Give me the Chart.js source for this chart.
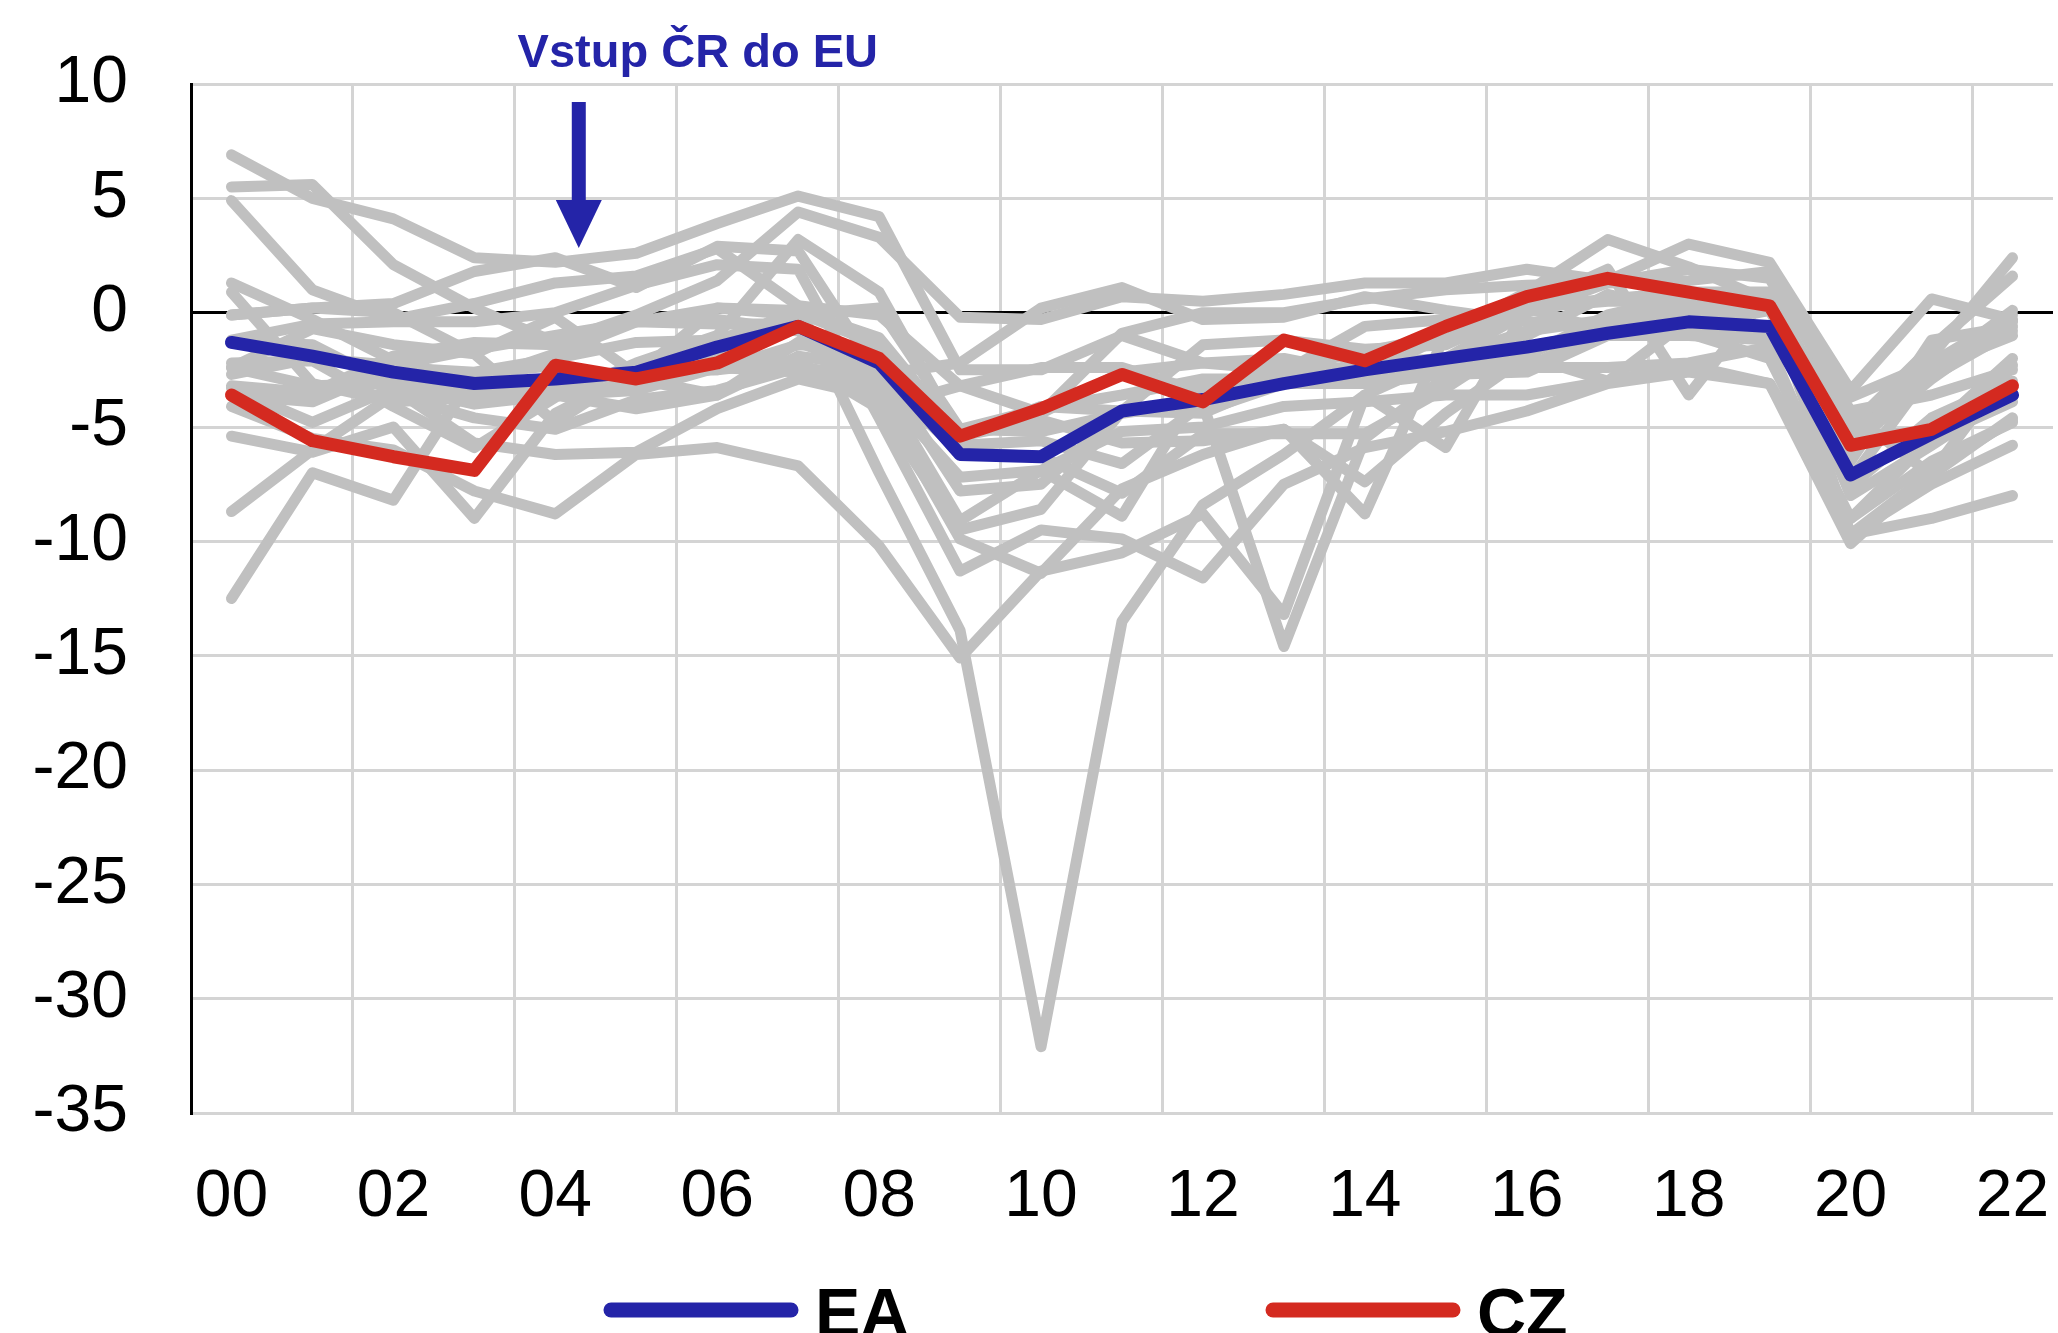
<!DOCTYPE html>
<html lang="cs">
<head>
    <meta charset="UTF-8">
    <title>Saldo veřejných rozpočtů</title>
    <script src="https://cdn.jsdelivr.net/npm/chart.js@4"></script>
    <style>
        html, body {
            margin: 0;
            padding: 0;
            background: #fff;
        }

        #wrap {
            position: relative;
            width: 2058px;
            height: 1333px;
        }
    </style>
</head>
<body>
    <div id="wrap"><canvas id="balanceChart"></canvas></div>

    <script>
        // years 2000 - 2022, only every second one gets a label
        const years = ['00', '01', '02', '03', '04', '05', '06', '07', '08', '09', '10', '11',
                       '12', '13', '14', '15', '16', '17', '18', '19', '20', '21', '22'];

        const ea = [-1.3, -1.9, -2.6, -3.1, -2.9, -2.6, -1.5, -0.6, -2.2, -6.2, -6.3, -4.3,
                    -3.8, -3.1, -2.5, -2.0, -1.5, -0.9, -0.4, -0.6, -7.1, -5.3, -3.6];
        const cz = [-3.6, -5.6, -6.3, -6.9, -2.3, -2.9, -2.2, -0.6, -2.0, -5.4, -4.2, -2.7,
                    -3.9, -1.2, -2.1, -0.6, 0.7, 1.5, 0.9, 0.3, -5.8, -5.1, -3.2];

        // euro area member states (grey lines)
        const be = [-0.1, 0.2, 0.0, -1.8, -0.2, -2.7, 0.2, 0.1, -1.1, -5.4, -4.1, -4.3,
                    -4.3, -3.1, -3.1, -2.4, -2.4, -0.7, -0.9, -2.0, -9.0, -5.5, -3.9];
        const de = [0.9, -3.1, -3.9, -3.7, -3.3, -3.3, -1.7, 0.3, -0.1, -3.2, -4.4, -0.9,
                    0.0, 0.0, 0.6, 1.0, 1.2, 1.3, 1.9, 1.5, -4.3, -3.6, -2.5];
        const ee = [-0.1, 0.2, 0.4, 1.8, 2.4, 1.1, 2.9, 2.7, -2.7, -2.2, 0.2, 1.1,
                    -0.3, -0.2, 0.7, 0.1, -0.4, -0.5, -0.6, 0.1, -5.5, -2.4, -1.0];
        const ie = [4.9, 1.0, -0.3, 0.4, 1.3, 1.6, 2.8, 0.3, -7.0, -13.9, -32.1, -13.5,
                    -8.4, -6.2, -3.6, -2.0, -0.8, -0.3, 0.1, 0.5, -5.0, -1.5, 1.6];
        const el = [-4.1, -5.5, -6.0, -7.8, -8.8, -6.2, -5.9, -6.7, -10.2, -15.1, -11.3, -10.5,
                    -8.8, -13.2, -3.6, -5.9, 0.2, 0.6, 0.9, 0.9, -9.7, -7.0, -2.3];
        const es = [-1.2, -0.5, -0.4, -0.4, 0.0, 1.2, 2.1, 1.9, -4.6, -11.3, -9.5, -9.9,
                    -11.6, -7.5, -5.9, -5.2, -4.3, -3.1, -2.6, -3.1, -10.1, -6.9, -4.7];
        const fr = [-1.3, -1.4, -3.2, -4.0, -3.6, -3.4, -2.4, -2.6, -3.3, -7.2, -6.9, -5.2,
                    -5.0, -4.1, -3.9, -3.6, -3.6, -3.0, -2.3, -3.1, -9.0, -6.5, -4.8];
        const hr = [-8.7, -6.0, -3.6, -4.6, -5.1, -3.8, -3.4, -2.4, -2.8, -6.1, -6.3, -7.9,
                    -5.3, -5.3, -5.3, -3.3, -1.0, 0.8, 0.0, 0.2, -7.3, -2.5, 0.1];
        const it = [-2.4, -3.2, -3.1, -3.4, -3.6, -4.2, -3.6, -1.3, -2.6, -5.1, -4.2, -3.6,
                    -2.9, -2.9, -3.0, -2.6, -2.4, -2.4, -2.2, -1.5, -9.7, -9.0, -8.0];
        const cy = [-2.2, -2.1, -4.1, -5.9, -3.7, -2.2, -1.0, 3.2, 0.9, -5.4, -4.7, -5.7,
                    -5.6, -5.1, -8.8, -0.9, 0.3, 1.9, -3.6, 0.9, -5.8, -1.9, 2.4];
        const lv = [-2.7, -2.0, -2.3, -1.6, -1.0, -0.4, -0.5, -0.5, -4.2, -9.5, -8.6, -4.3,
                    -1.4, -1.2, -1.6, -1.4, 0.2, -0.8, -0.8, -0.6, -4.4, -7.1, -4.6];
        const lt = [-3.2, -3.5, -1.9, -1.3, -1.4, -0.3, -0.3, -0.8, -3.1, -9.1, -6.9, -8.9,
                    -3.1, -2.6, -0.6, -0.3, 0.2, 0.5, 0.5, 0.5, -6.5, -1.2, -0.6];
        const lu = [5.5, 5.6, 2.1, 0.2, -1.3, -0.1, 1.4, 4.4, 3.3, -0.2, -0.3, 0.7,
                    0.5, 0.8, 1.3, 1.3, 1.9, 1.4, 3.0, 2.2, -3.4, 0.6, -0.3];
        const mt = [-5.4, -6.1, -5.0, -9.0, -4.4, -2.6, -2.5, -2.1, -4.2, -3.2, -2.4, -2.4,
                    -3.5, -2.4, -1.7, -1.0, 0.9, 3.2, 2.0, 0.5, -9.7, -7.5, -5.8];
        const nl = [1.3, -0.3, -2.1, -3.0, -1.8, -0.4, 0.2, -0.1, 0.2, -5.1, -5.2, -4.4,
                    -3.9, -2.9, -2.2, -2.0, 0.0, 1.3, 1.4, 1.8, -3.7, -2.2, -0.1];
        const at = [-2.4, -0.7, -1.4, -1.8, -4.8, -2.5, -2.5, -1.4, -1.5, -5.3, -4.4, -2.6,
                    -2.2, -2.0, -2.7, -1.0, -1.5, -0.8, 0.2, 0.6, -8.0, -5.8, -3.5];
        const pt = [-3.3, -4.8, -3.3, -5.7, -6.2, -6.1, -4.2, -2.9, -3.7, -9.9, -11.4, -7.7,
                    -6.2, -5.1, -7.4, -4.4, -1.9, -3.0, -0.3, 0.1, -5.8, -2.9, -0.4];
        const si = [-3.6, -3.9, -2.4, -2.6, -2.0, -1.3, -1.2, 0.0, -1.4, -5.8, -5.6, -6.6,
                    -4.0, -14.6, -5.5, -2.8, -1.9, -0.1, 0.7, 0.6, -7.6, -4.6, -3.0];
        const sk = [-12.5, -7.0, -8.2, -2.7, -2.3, -2.9, -3.6, -1.9, -2.4, -7.8, -7.5, -4.3,
                    -4.4, -2.9, -3.1, -2.7, -2.6, -1.0, -1.0, -1.2, -5.4, -5.2, -2.0];
        const fi = [6.9, 5.0, 4.1, 2.4, 2.2, 2.6, 3.9, 5.1, 4.2, -2.5, -2.5, -1.0,
                    -2.2, -2.5, -3.0, -2.4, -1.7, -0.7, -0.9, -0.9, -5.6, -2.8, -0.8];

        const memberStates = [be, de, ee, ie, el, es, fr, hr, it, cy, lv, lt, lu, mt, nl, at, pt, si, sk, fi];

        const yTicks = [10, 5, 0, -5, -10, -15, -20, -25, -30, -35];

        const blue = '#2424a8';
        const red = '#d42a20';
        const grey = '#c0c0c0';
        const gridGrey = '#d4d4d4';
        const fontFamily = '"Liberation Sans", Arial, sans-serif';

        const datasets = memberStates.map(values => ({
            label: '',
            data: values,
            borderColor: grey,
            borderWidth: 11,
            order: 3
        }));
        datasets.push({ label: 'EA', data: ea, borderColor: blue, backgroundColor: blue, borderWidth: 13, order: 2, inKey: true });
        datasets.push({ label: 'CZ', data: cz, borderColor: red, backgroundColor: red, borderWidth: 13, order: 1, inKey: true });

        // arrow + note about the Czech EU entry (2004)
        const euEntryNote = {
            id: 'euEntryNote',
            afterDraw(chart) {
                const { ctx, chartArea } = chart;
                const x = chart.scales.x;
                const step = x.getPixelForValue(1) - x.getPixelForValue(0);
                const ax = x.getPixelForValue(4) + 0.29 * step;
                const top = chartArea.top;

                ctx.save();
                ctx.fillStyle = blue;
                ctx.fillRect(ax - 7, top + 18, 14, 100);
                ctx.beginPath();
                ctx.moveTo(ax - 23, top + 116);
                ctx.lineTo(ax + 23, top + 116);
                ctx.lineTo(ax, top + 164);
                ctx.closePath();
                ctx.fill();

                ctx.font = 'bold 47px ' + fontFamily;
                ctx.textAlign = 'center';
                ctx.textBaseline = 'alphabetic';
                ctx.fillText('Vstup ČR do EU', ax + 119, top - 17);
                ctx.restore();
            }
        };

        // key under the chart: thick line + bold label
        const lineKey = {
            id: 'lineKey',
            afterDraw(chart) {
                const { ctx, width } = chart;
                const items = chart.data.datasets.filter(d => d.inKey);
                const starts = [width / 2 - 425, width / 2 + 237];
                ctx.save();
                items.forEach((d, i) => {
                    const x0 = starts[i];
                    ctx.strokeStyle = d.borderColor;
                    ctx.lineWidth = 15;
                    ctx.lineCap = 'round';
                    ctx.beginPath();
                    ctx.moveTo(x0 + 7, 1310);
                    ctx.lineTo(x0 + 187, 1310);
                    ctx.stroke();

                    ctx.fillStyle = '#000';
                    ctx.font = 'bold 68px ' + fontFamily;
                    ctx.textAlign = 'left';
                    ctx.textBaseline = 'alphabetic';
                    ctx.fillText(d.label, x0 + 211, 1336);
                });
                ctx.restore();
            }
        };

        new Chart(document.getElementById('balanceChart'), {
            type: 'line',
            data: {
                labels: years,
                datasets: datasets
            },
            options: {
                responsive: true,
                maintainAspectRatio: false,
                animation: false,
                events: [],
                layout: {
                    padding: { top: 84, right: 5, bottom: 0, left: 0 }
                },
                elements: {
                    line: { tension: 0, borderJoinStyle: 'round', borderCapStyle: 'round' },
                    point: { radius: 0 }
                },
                plugins: {
                    legend: { display: false },
                    tooltip: { enabled: false }
                },
                scales: {
                    x: {
                        offset: true,
                        grid: {
                            offset: true,
                            drawTicks: false,
                            lineWidth: 3,
                            color: ctx => ctx.index % 2 === 0 ? gridGrey : 'rgba(0,0,0,0)'
                        },
                        border: { display: false },
                        ticks: {
                            autoSkip: false,
                            maxRotation: 0,
                            padding: 45,
                            color: '#000',
                            font: { family: fontFamily, size: 66 },
                            callback: (value, index) => index % 2 === 0 ? years[index] : ''
                        },
                        afterFit: scale => {
                            scale.height = 220;
                            scale.paddingLeft = 0;
                            scale.paddingRight = 0;
                        }
                    },
                    y: {
                        min: -35,
                        max: 10,
                        afterBuildTicks: scale => { scale.ticks = yTicks.map(v => ({ value: v })); },
                        grid: {
                            drawTicks: false,
                            lineWidth: 3,
                            color: ctx => ctx.tick && ctx.tick.value === 0 ? '#000' : gridGrey
                        },
                        border: { display: true, color: '#000', width: 3 },
                        ticks: {
                            padding: 63,
                            color: '#000',
                            font: { family: fontFamily, size: 66 }
                        },
                        afterFit: scale => {
                            scale.width = 191;
                            scale.paddingTop = 0;
                            scale.paddingBottom = 0;
                        }
                    }
                }
            },
            plugins: [euEntryNote, lineKey]
        });
    </script>
</body>
</html>
